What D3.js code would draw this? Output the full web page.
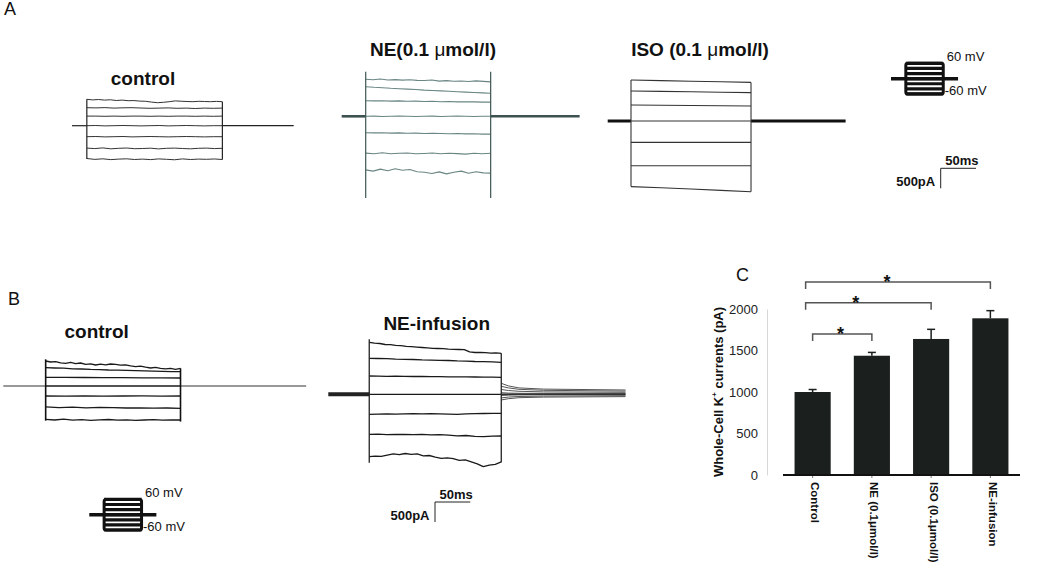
<!DOCTYPE html>
<html>
<head>
<meta charset="utf-8">
<script src="https://cdn.jsdelivr.net/npm/d3@7"></script>
<style>
body { margin: 0; background: #fff; }
svg text { font-family: "Liberation Sans", Arial, sans-serif; }
</style>
</head>
<body>
<svg id="fig" width="1050" height="562"></svg>
<script>
//Scale bar
var scaleBarMs = 50;
var scaleBarPa = 500;

//Voltage protocol: step levels (mV) and timing (ms: before, pulse, after)
var protoLevels = [60, 40, 20, 0, -20, -40, -60];
var protoTiming = [21, 53, 21];

//Panel A control: timing (ms) and current steps (pA, sampled across pulse)
var aCtrlTiming = [21, 192, 101];
var aCtrlSteps = [
    [660, 645, 655, 640, 648, 630, 640, 625, 628, 615, 610, 590, 575, 585, 600, 620, 612, 605, 600, 610, 605, 600, 608, 600],
    [450, 445, 452, 440, 447, 450, 442, 435, 440, 445, 435, 440, 430, 440, 435, 440],
    [240, 240, 235, 240, 235, 240, 240, 235, 240, 235, 240, 240, 235, 240, 235, 240],
    [0, 5, -5, 0, 5, 0, -5, 0, 5, -5, 0, 5, 0, -5, 0, 0],
    [-275, -270, -280, -275, -270, -280, -275, -270, -275, -280, -275, -270, -275, -280, -275, -275],
    [-560, -572, -555, -578, -565, -558, -575, -570, -562, -580, -565, -560, -570, -578, -565, -560, -572, -565],
    [-820, -842, -828, -848, -835, -828, -845, -835, -848, -830, -840, -852, -830, -845, -835, -840, -832, -845]
];
var aCtrlEdges = [[660, -830], [600, -845]];

//Panel A NE (0.1 umol/l)
var aNeTiming = [34, 177, 126];
var aNeSteps = [
    [925, 912, 932, 908, 918, 905, 915, 898, 895, 908, 880, 892, 875, 884, 870, 885, 872, 860],
    [740, 725, 715, 700, 690, 680, 670, 655, 645, 635, 625, 615, 605, 595, 585, 575],
    [390, 385, 390, 380, 385, 375, 380, 370, 375, 365, 370, 360, 365, 360, 355, 355],
    [0, 5, -5, 0, 5, 0, -5, 0, 5, -5, 0, 5, 0, -5, 0, 0],
    [-410, -415, -410, -420, -415, -425, -420, -430, -425, -430, -435, -430, -440, -435, -445, -445],
    [-920, -935, -912, -938, -925, -918, -938, -930, -918, -938, -925, -932, -945, -925, -935, -925],
    [-1340, -1370, -1320, -1360, -1310, -1350, -1330, -1385, -1400, -1430, -1390, -1440, -1400, -1370, -1425, -1385, -1415, -1420]
];
var aNeEdges = [[1115, -2045], [1115, -2045]];

//Panel A ISO (0.1 umol/l)
var aIsoTiming = [33, 170, 134];
var aIsoSteps = [
    [1025, 1010, 995, 980, 965],
    [750, 740, 730, 720, 710],
    [400, 395, 388, 380, 375],
    [0, 0, 0, 0, 0],
    [-535, -535, -535, -535, -535],
    [-1120, -1120, -1120, -1120, -1120],
    [-1640, -1670, -1700, -1735, -1770]
];
var aIsoEdges = [[1025, -1640], [965, -1770]];

//Panel B control
var bCtrlTiming = [60, 191, 178];
var bCtrlSteps = [
    [625, 600, 610, 580, 567, 590, 560, 575, 540, 555, 525, 545, 530, 550, 540, 520, 530, 505, 483, 495, 470, 450, 465, 442, 430, 440, 417, 440],
    [458, 450, 445, 430, 425, 415, 410, 400, 395, 390, 385, 378, 372, 365, 360, 358],
    [217, 215, 212, 210, 208, 205, 203, 200],
    [0, 0, 0, 0, 0, 0, 0, 0],
    [-250, -252, -248, -255, -250, -248, -252, -250],
    [-520, -540, -530, -545, -535, -540, -550, -545, -555, -550, -558],
    [-833, -850, -830, -855, -840, -860, -845, -838, -855, -845, -860, -850, -840, -855, -848, -850]
];
var bCtrlEdges = [[667, -867], [442, -890]];

//Panel B NE-infusion
var bNeTiming = [58, 187, 176];
var bNeSteps = [
    [1300, 1280, 1270, 1245, 1240, 1225, 1215, 1200, 1190, 1180, 1170, 1160, 1150, 1145, 1140, 1130, 1125, 1120, 1115, 1060, 1045, 1050, 1040, 1030, 1035, 1025],
    [900, 895, 890, 880, 875, 870, 860, 855, 850, 845, 835, 830, 820, 815, 810, 800],
    [457, 455, 450, 452, 448, 445, 447, 440, 442, 438, 435, 437, 432, 430, 428, 425],
    [0, 0, 0, 0, 0, 0, 0, 0],
    [-500, -495, -490, -495, -490, -485, -490, -485, -490, -495, -500, -490, -485, -480, -478, -475],
    [-1000, -995, -1010, -1000, -1005, -1010, -1000, -1015, -1010, -1020, -1040, -1030, -1050, -1060, -1045, -1042],
    [-1560, -1545, -1550, -1520, -1490, -1510, -1480, -1500, -1490, -1540, -1530, -1570, -1600, -1590, -1610, -1650, -1640, -1690, -1740, -1810, -1770, -1750, -1690]
];
var bNeEdges = [[1375, -1710], [1025, -1700]];
//Tail currents after the pulse (ms after pulse end, pA)
var bNeTailTimes = [0, 10, 25, 60, 176];
var bNeTails = [
    [275, 210, 160, 130, 108],
    [200, 160, 125, 100, 80],
    [120, 95, 75, 60, 50],
    [40, 30, 25, 22, 20],
    [-30, -22, -15, -12, -10],
    [-90, -70, -55, -45, -35],
    [-142, -110, -85, -70, -58]
];

//Panel C: bar chart
var groups = ["Control", "NE (0.1\u03bcmol/l)", "ISO (0.1\u03bcmol/l)", "NE-infusion"];
var means = [1000, 1437, 1639, 1888];
var errors = [30, 40, 116, 92];
var yTicks = [0, 500, 1000, 1500, 2000];
var comparisons = [[0, 1, 1700], [0, 2, 2075], [0, 3, 2325]];
var starFrac = [0.47, 0.40, 0.44];

var svg = d3.select("#fig");

//Shared scales for all traces
var xMs = d3.scaleLinear().domain([0, scaleBarMs]).range([0, 35.3]);
var yPa = d3.scaleLinear().domain([0, scaleBarPa]).range([0, -20]);
var yMv = d3.scaleLinear().domain([-60, 60]).range([15.3, -15.3]);
var line = d3.line().x(function (d) { return xMs(d[0]); }).y(function (d) { return yPa(d[1]); });

function drawTraces(x0, y0, timing, steps, edges, style, tails) {
    var g = svg.append("g").attr("transform", "translate(" + x0 + "," + y0 + ")")
        .attr("fill", "none");
    var t0 = timing[0];
    var t1 = timing[0] + timing[1];
    var tEnd = t1 + timing[2];

    //holding current
    g.append("path").attr("d", line([[0, 0], [t0, 0]]))
        .attr("stroke", style.base).attr("stroke-width", style.baseWidth);
    if (tails) {
        tails.forEach(function (tl) {
            g.append("path")
                .attr("d", line(tl.map(function (v, i) { return [t1 + bNeTailTimes[i], v]; })))
                .attr("stroke", "#555").attr("stroke-width", 1);
        });
        g.append("path").attr("d", line([[t1, 0], [tEnd, 0]]))
            .attr("stroke", "#333").attr("stroke-width", 1.6);
    } else {
        g.append("path").attr("d", line([[t1, 0], [tEnd, 0]]))
            .attr("stroke", style.base).attr("stroke-width", style.baseWidth);
    }

    //current steps during the pulse
    steps.forEach(function (s) {
        var pts = s.map(function (v, i) { return [t0 + timing[1] * i / (s.length - 1), v]; });
        g.append("path").attr("d", line(pts))
            .attr("stroke", style.trace).attr("stroke-width", style.width)
            .attr("stroke-linejoin", "round");
    });

    //pulse edges
    [t0, t1].forEach(function (t, k) {
        g.append("path").attr("d", line([[t, edges[k][0]], [t, edges[k][1]]]))
            .attr("stroke", style.edge).attr("stroke-width", style.edgeWidth);
    });
}

function drawProtocol(x0, y0) {
    var g = svg.append("g").attr("transform", "translate(" + x0 + "," + y0 + ")");
    var t0 = protoTiming[0], t1 = protoTiming[0] + protoTiming[1], tEnd = t1 + protoTiming[2];
    g.append("line").attr("x1", xMs(0)).attr("x2", xMs(tEnd))
        .attr("y1", yMv(0)).attr("y2", yMv(0))
        .attr("stroke", "#111").attr("stroke-width", 3.5);
    protoLevels.forEach(function (v) {
        g.append("line").attr("x1", xMs(t0)).attr("x2", xMs(t1))
            .attr("y1", yMv(v)).attr("y2", yMv(v))
            .attr("stroke", "#111").attr("stroke-width", 3.2);
    });
    g.append("rect").attr("x", xMs(t0)).attr("y", yMv(60))
        .attr("width", xMs(t1) - xMs(t0)).attr("height", yMv(-60) - yMv(60))
        .attr("rx", 2).attr("fill", "none").attr("stroke", "#111").attr("stroke-width", 3);
    g.append("text").text("60 mV").attr("x", xMs(t1) + 3.5).attr("y", yMv(60) - 2.5)
        .attr("font-size", 13).attr("fill", "#111");
    g.append("text").text("-60 mV").attr("x", xMs(t1) + 1.5).attr("y", yMv(-60) + 1.5)
        .attr("font-size", 13).attr("fill", "#111");
}

function drawScaleBar(x0, y0) {
    var g = svg.append("g").attr("transform", "translate(" + x0 + "," + y0 + ")");
    g.append("path")
        .attr("d", "M" + xMs(scaleBarMs) + ",0H0V" + yPa(-scaleBarPa))
        .attr("fill", "none").attr("stroke", "#222").attr("stroke-width", 1);
    g.append("text").text(scaleBarMs + "ms").attr("x", 4.5).attr("y", -3.5)
        .attr("font-size", 13).attr("font-weight", "bold").attr("fill", "#111");
    g.append("text").text(scaleBarPa + "pA").attr("x", -5.5).attr("y", 17.5)
        .attr("text-anchor", "end")
        .attr("font-size", 13).attr("font-weight", "bold").attr("fill", "#111");
}

function title(txt, x, y) {
    var t = svg.append("text").attr("x", x).attr("y", y).attr("text-anchor", "middle")
        .attr("font-size", 19).attr("font-weight", "bold").attr("fill", "#111");
    var parts = txt.split("\u03bc");
    t.append("tspan").text(parts[0]);
    if (parts.length > 1) {
        t.append("tspan").attr("font-weight", "normal").text("\u03bc");
        t.append("tspan").text(parts[1]);
    }
}

//Panel letters
svg.append("text").text("A").attr("x", 4).attr("y", 15).attr("font-size", 18).attr("fill", "#111");
svg.append("text").text("B").attr("x", 8).attr("y", 305).attr("font-size", 18).attr("fill", "#111");
svg.append("text").text("C").attr("x", 736).attr("y", 281).attr("font-size", 18).attr("fill", "#111");

//Panel A
title("control", 143, 85);
title("NE(0.1 \u03bcmol/l)", 433, 56);
title("ISO (0.1 \u03bcmol/l)", 700, 56);
drawTraces(72, 125.7, aCtrlTiming, aCtrlSteps, aCtrlEdges,
    {trace: "#333", width: 1, base: "#222", baseWidth: 1.2, edge: "#222", edgeWidth: 1.2});
drawTraces(341.7, 116.3, aNeTiming, aNeSteps, aNeEdges,
    {trace: "#6a8684", width: 1.1, base: "#3d5250", baseWidth: 2.6, edge: "#3d5553", edgeWidth: 1.2});
drawTraces(607.7, 121, aIsoTiming, aIsoSteps, aIsoEdges,
    {trace: "#333", width: 1.1, base: "#111", baseWidth: 3, edge: "#333", edgeWidth: 1.1});
drawProtocol(891, 78.65);
drawScaleBar(940.7, 168.3);

//Panel B
title("control", 96.7, 338.3);
title("NE-infusion", 436.7, 330);
drawTraces(3.3, 386, bCtrlTiming, bCtrlSteps, bCtrlEdges,
    {trace: "#1a1a1a", width: 1.3, base: "#333", baseWidth: 1.2, edge: "#111", edgeWidth: 1.6});
drawTraces(328.3, 394.3, bNeTiming, bNeSteps, bNeEdges,
    {trace: "#1a1a1a", width: 1.3, base: "#222", baseWidth: 4, edge: "#222", edgeWidth: 1.3}, bNeTails);
drawProtocol(89.3, 514.7);
drawScaleBar(435, 502);

//Panel C
var cx = d3.scaleBand().domain(groups).range([783, 1020]).paddingInner(0.39).paddingOuter(0.195);
var cy = d3.scaleLinear().domain([0, 2000]).range([475, 309]);
var barColor = "#1b201f";

var yAxis = svg.append("g").attr("transform", "translate(767,0)")
    .call(d3.axisLeft(cy).tickValues(yTicks).tickFormat(d3.format("d")).tickSize(0).tickPadding(9));
yAxis.select(".domain").attr("stroke", "#d8d8d8");
yAxis.selectAll("text").attr("font-size", 13).attr("fill", "#222")
    .style("font-family", "'Liberation Sans', Arial, sans-serif");

svg.selectAll(".bar").data(groups).enter().append("rect")
    .attr("x", function (d) { return cx(d); })
    .attr("y", function (d, i) { return cy(means[i]); })
    .attr("width", cx.bandwidth())
    .attr("height", function (d, i) { return cy(0) - cy(means[i]); })
    .attr("fill", barColor);

//error bars (upper only)
groups.forEach(function (d, i) {
    var c = cx(d) + cx.bandwidth() / 2;
    svg.append("line").attr("x1", c).attr("x2", c)
        .attr("y1", cy(means[i])).attr("y2", cy(means[i] + errors[i]))
        .attr("stroke", barColor).attr("stroke-width", 1.5);
    svg.append("line").attr("x1", c - 4).attr("x2", c + 4)
        .attr("y1", cy(means[i] + errors[i])).attr("y2", cy(means[i] + errors[i]))
        .attr("stroke", barColor).attr("stroke-width", 1.5);
    //small tick under axis
    svg.append("line").attr("x1", c).attr("x2", c).attr("y1", cy(0)).attr("y2", cy(0) + 3)
        .attr("stroke", "#777").attr("stroke-width", 1);
});

//x axis line
svg.append("line").attr("x1", 783).attr("x2", 1020).attr("y1", cy(0)).attr("y2", cy(0))
    .attr("stroke", "#111").attr("stroke-width", 2);

//x labels, rotated
groups.forEach(function (d) {
    var c = cx(d) + cx.bandwidth() / 2;
    svg.append("text").text(d)
        .attr("transform", "translate(" + (c - 1.5) + ",482) rotate(90)")
        .attr("font-size", 11.5).attr("font-weight", "bold").attr("fill", "#111");
});

//y label
var yl = svg.append("text")
    .attr("transform", "translate(723,392) rotate(-90)")
    .attr("text-anchor", "middle")
    .attr("font-size", 13).attr("font-weight", "bold").attr("fill", "#111");
yl.append("tspan").text("Whole-Cell K");
yl.append("tspan").text("+").attr("font-size", 8).attr("dy", -6);
yl.append("tspan").text(" currents (pA)").attr("dy", 6);

//significance brackets
comparisons.forEach(function (cmp, k) {
    var left = cx(groups[cmp[0]]) + cx.bandwidth() / 2 - (k > 0 ? 7 : 0);
    var right = cx(groups[cmp[1]]) + cx.bandwidth() / 2;
    var y = cy(cmp[2]);
    svg.append("path")
        .attr("d", "M" + left + "," + (y + 7) + "V" + y + "H" + right + "V" + (y + 7))
        .attr("fill", "none").attr("stroke", "#555").attr("stroke-width", 1.5);
    svg.append("text").text("*")
        .attr("x", left + (right - left) * starFrac[k]).attr("y", y + 6)
        .attr("text-anchor", "middle")
        .attr("font-size", 18).attr("font-weight", "bold").attr("fill", "#111");
});
</script>
</body>
</html>
